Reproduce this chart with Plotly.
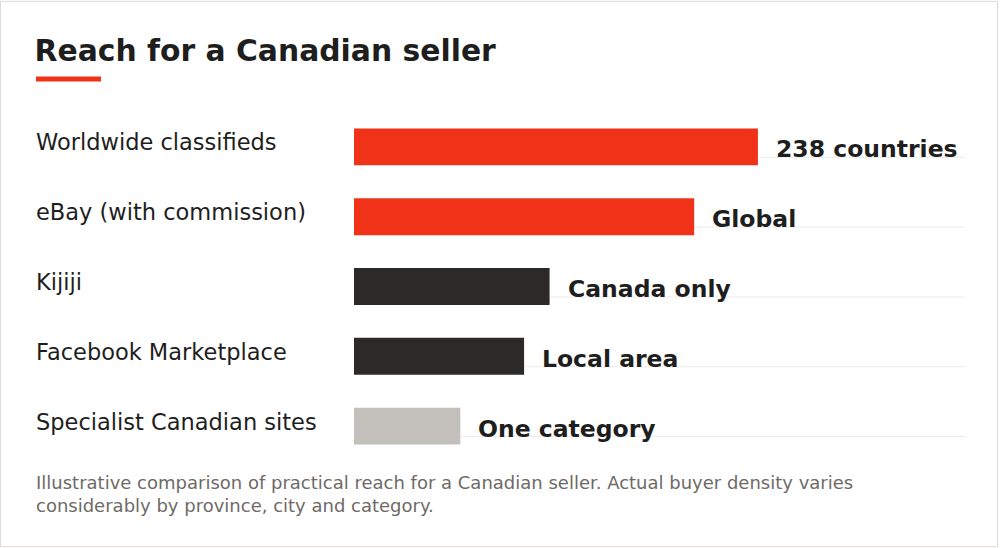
import plotly.graph_objects as go

# --- data -----------------------------------------------------------------
platforms = ["Worldwide classifieds", "eBay (with commission)", "Kijiji",
             "Facebook Marketplace", "Specialist Canadian sites"]
reach_score = [95, 80, 46, 40, 25]          # illustrative reach index
reach_label = ["238 countries", "Global", "Canada only", "Local area", "One category"]
bar_colors = ["#F03218", "#F03218", "#2B2A28", "#2B2A28", "#C3BFBB"]

title = "Reach for a Canadian seller"
note = ("Illustrative comparison of practical reach for a Canadian seller. Actual buyer density varies"
        "<br>considerably by province, city and category.")

# --- layout geometry (pixels) ----------------------------------------------
W, H = 1000, 548
ml, mr, mt, mb = 354, 35, 111.5, 86.5
pw, ph = W - ml - mr, H - mt - mb
FONT = "DejaVu Sans"


def px_x(x):
    return (x - ml) / pw


def px_y(y):
    return (H - mb - y) / ph


fig = go.Figure()
fig.add_trace(go.Bar(
    x=reach_score, y=platforms, orientation="h",
    marker=dict(color=bar_colors, line=dict(width=0)),
    hoverinfo="skip",
))

# faint guide line under every row
shapes = []
for i, _ in enumerate(platforms):
    shapes.append(dict(type="line", xref="x domain", yref="y", x0=0, x1=1,
                       y0=i + 0.15, y1=i + 0.15, layer="below",
                       line=dict(color="#ebebeb", width=1)))
# red accent under the title
shapes.append(dict(type="rect", xref="paper", yref="paper",
                   x0=px_x(36), x1=px_x(101), y0=px_y(81), y1=px_y(76),
                   fillcolor="#F03218", line=dict(width=0)))
# card border
shapes.append(dict(type="rect", xref="paper", yref="paper",
                   x0=px_x(0.5), x1=px_x(997.5), y0=px_y(547.5), y1=px_y(0.5),
                   line=dict(color="#dddad6", width=1)))

annotations = []
for p in platforms:
    annotations.append(dict(xref="paper", yref="y", x=px_x(34), y=p,
                            xanchor="left", yanchor="middle", yshift=4.5,
                            text=p, showarrow=False,
                            font=dict(family=FONT, size=22.5, color="#1e1e1e")))
for p, v, lab in zip(platforms, reach_score, reach_label):
    annotations.append(dict(xref="x", yref="y", x=v, y=p,
                            xanchor="left", yanchor="middle", xshift=16, yshift=-2.5,
                            text="<b>%s</b>" % lab, showarrow=False,
                            font=dict(family=FONT, size=23.5, color="#1e1e1e")))
annotations.append(dict(xref="paper", yref="paper", x=px_x(34), y=px_y(471),
                        xanchor="left", yanchor="top", align="left",
                        text=note, showarrow=False,
                        font=dict(family=FONT, size=18, color="#6e6a66")))

fig.update_layout(
    width=W, height=H,
    margin=dict(l=ml, r=mr, t=mt, b=mb),
    paper_bgcolor="white", plot_bgcolor="white",
    showlegend=False,
    bargap=1 - 37 / 70,
    title=dict(text="<b>%s</b>" % title, xref="container", yref="container",
               x=34.5 / W, xanchor="left", y=1 - 50.7 / H, yanchor="middle",
               font=dict(family=FONT, size=29.8, color="#1e1e1e")),
    xaxis=dict(range=[0, 143.7], visible=False, fixedrange=True),
    yaxis=dict(categoryorder="array", categoryarray=platforms, autorange="reversed",
               showticklabels=False, showgrid=False, zeroline=False, fixedrange=True),
    shapes=shapes,
    annotations=annotations,
)

# drop the browser's default 8px body margin so the card sits at the page corner
fig.write_html("out.html", config={"displayModeBar": False},
               post_script="document.body.style.margin='0';")
